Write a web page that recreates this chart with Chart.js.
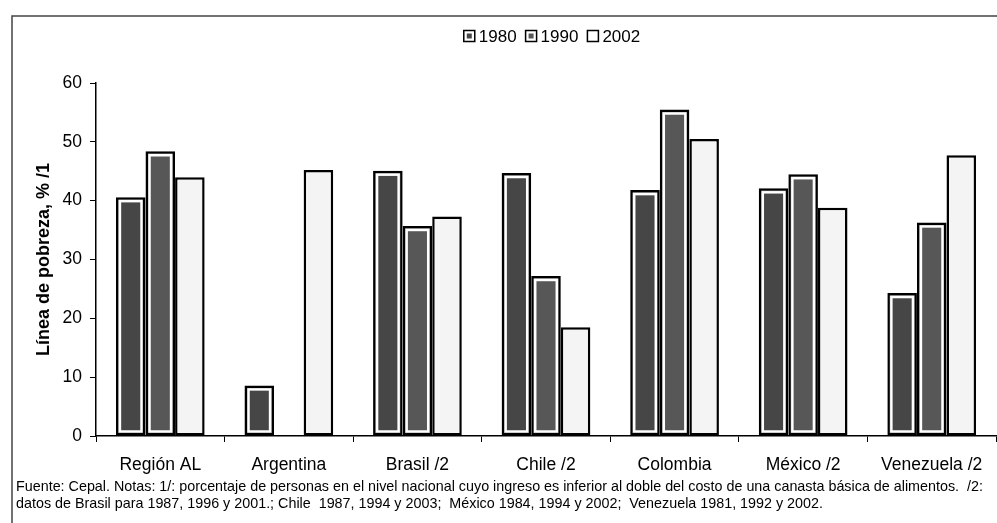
<!DOCTYPE html>
<html>
<head>
<meta charset="utf-8">
<script src="https://cdn.jsdelivr.net/npm/chart.js@4.4.1/dist/chart.umd.min.js"></script>
<style>
  html, body { margin: 0; padding: 0; background: #fff; overflow: hidden; }
  #wrap { width: 997px; height: 523px; position: relative; }
</style>
</head>
<body>
<div id="wrap"><canvas id="c" width="997" height="523"></canvas></div>
<script>
// Poverty line by country, percentage of people (CEPAL)
const categories = ['Región AL', 'Argentina', 'Brasil /2', 'Chile /2', 'Colombia', 'México /2', 'Venezuela /2'];
const seriesNames = ['1980', '1990', '2002'];
const values1980 = [40.6, 8.6, 45.1, 44.7, 41.8, 42.1, 24.3];
const values1990 = [48.4, null, 35.7, 27.2, 55.5, 44.5, 36.3];
const values2002 = [44.0, 45.2, 37.3, 18.5, 50.5, 38.8, 47.7];
const yTicks = [0, 10, 20, 30, 40, 50, 60];
const yTitle = 'Línea de pobreza, % /1';
const noteLines = [
  'Fuente: Cepal. Notas: 1/: porcentaje de personas en el nivel nacional cuyo ingreso es inferior al doble del costo de una canasta básica de alimentos.  /2:',
  'datos de Brasil para 1987, 1996 y 2001.; Chile  1987, 1994 y 2003;  México 1984, 1994 y 2002;  Venezuela 1981, 1992 y 2002.'
];

const FONT = "'Liberation Sans', Arial, Helvetica, sans-serif";
Chart.defaults.font.family = FONT;
Chart.defaults.color = '#000';

const fills = ['#464646', '#575757', '#f4f4f4'];

// outer frame (top and left edges of the figure box)
const framePlugin = {
  id: 'frame',
  beforeDraw(chart) {
    const ctx = chart.ctx;
    ctx.save();
    ctx.strokeStyle = '#444';
    ctx.lineWidth = 1.5;
    ctx.beginPath();
    ctx.moveTo(12, 523);
    ctx.lineTo(12, 16);
    ctx.lineTo(997, 16);
    ctx.stroke();
    ctx.restore();
  }
};

// white inner margin inside the shaded bars
const innerGapPlugin = {
  id: 'innerGap',
  afterDatasetsDraw(chart) {
    const ctx = chart.ctx;
    ctx.save();
    ctx.strokeStyle = '#fff';
    ctx.lineWidth = 2.5;
    [0, 1].forEach(di => {
      const meta = chart.getDatasetMeta(di);
      meta.data.forEach((el, i) => {
        const v = chart.data.datasets[di].data[i];
        if (v === null || v === undefined) return;
        const p = el.getProps(['x', 'y', 'base', 'width'], true);
        const left = p.x - p.width / 2;
        const h = p.base - p.y;
        if (h < 10) return;
        ctx.strokeRect(left + 4, p.y + 4, p.width - 8, h - 8);
      });
    });
    ctx.restore();
  }
};

// legend row at the top
const legendPlugin = {
  id: 'topLegend',
  afterDraw(chart) {
    const ctx = chart.ctx;
    ctx.save();
    ctx.font = '17px ' + FONT;
    ctx.textBaseline = 'middle';
    const box = 11, gap = 4, spacing = 9;
    const items = chart.data.datasets.map(d => d.label);
    let total = 0;
    items.forEach((t, i) => { total += box + gap + ctx.measureText(t).width + (i < items.length - 1 ? spacing : 0); });
    let x = 552 - total / 2;
    const cy = 36;
    items.forEach((t, i) => {
      ctx.fillStyle = '#fff';
      ctx.fillRect(x, cy - box / 2, box, box);
      if (i < 2) {
        ctx.fillStyle = fills[i];
        ctx.fillRect(x + 3, cy - box / 2 + 3, box - 6, box - 6);
      }
      ctx.strokeStyle = '#000';
      ctx.lineWidth = 1.5;
      ctx.strokeRect(x, cy - box / 2, box, box);
      ctx.fillStyle = '#000';
      ctx.fillText(t, x + box + gap, cy + 1);
      x += box + gap + ctx.measureText(t).width + spacing;
    });
    ctx.restore();
  }
};

// source and notes under the axis
const notesPlugin = {
  id: 'notes',
  afterDraw(chart) {
    const ctx = chart.ctx;
    ctx.save();
    ctx.font = '12px ' + FONT;
    const w = ctx.measureText(noteLines[0]).width;
    const size = 12 * 968 / w;
    ctx.font = size.toFixed(2) + 'px ' + FONT;
    ctx.fillStyle = '#000';
    ctx.textBaseline = 'middle';
    ctx.fillText(noteLines[0], 16, 487);
    ctx.fillText(noteLines[1], 16, 504);
    ctx.restore();
  }
};

new Chart(document.getElementById('c'), {
  type: 'bar',
  data: {
    labels: categories,
    datasets: [
      { label: seriesNames[0], data: values1980, backgroundColor: fills[0], borderColor: '#000', borderWidth: 2.5, borderSkipped: false },
      { label: seriesNames[1], data: values1990, backgroundColor: fills[1], borderColor: '#000', borderWidth: 2.5, borderSkipped: false },
      { label: seriesNames[2], data: values2002, backgroundColor: fills[2], borderColor: '#000', borderWidth: 2.5, borderSkipped: false }
    ]
  },
  options: {
    responsive: false,
    animation: false,
    layout: { padding: { left: 30, top: 83, right: 1, bottom: 47 } },
    datasets: { bar: { categoryPercentage: 0.69, barPercentage: 1.0 } },
    plugins: { legend: { display: false }, tooltip: { enabled: false } },
    scales: {
      x: {
        grid: { display: true, drawOnChartArea: false, drawTicks: true, tickLength: 6, color: '#000', offset: true },
        border: { display: true, color: '#000', width: 1.5 },
        ticks: { font: { size: 17.5 }, color: '#000', padding: 13, maxRotation: 0, autoSkip: false },
        afterFit(s) { s.height = 40; }
      },
      y: {
        min: 0,
        max: 60,
        afterBuildTicks(s) { s.ticks = yTicks.map(v => ({ value: v })); },
        grid: { display: true, drawOnChartArea: false, drawTicks: true, tickLength: 6, color: '#000' },
        border: { display: true, color: '#000', width: 1.5 },
        ticks: { font: { size: 17.5 }, color: '#000', padding: 8 },
        title: { display: true, text: yTitle, font: { size: 18, weight: 'bold' }, color: '#000', padding: { top: 3, bottom: 0 } },
        afterFit(s) { s.width = 66; }
      }
    }
  },
  plugins: [framePlugin, innerGapPlugin, legendPlugin, notesPlugin]
});
</script>
</body>
</html>
